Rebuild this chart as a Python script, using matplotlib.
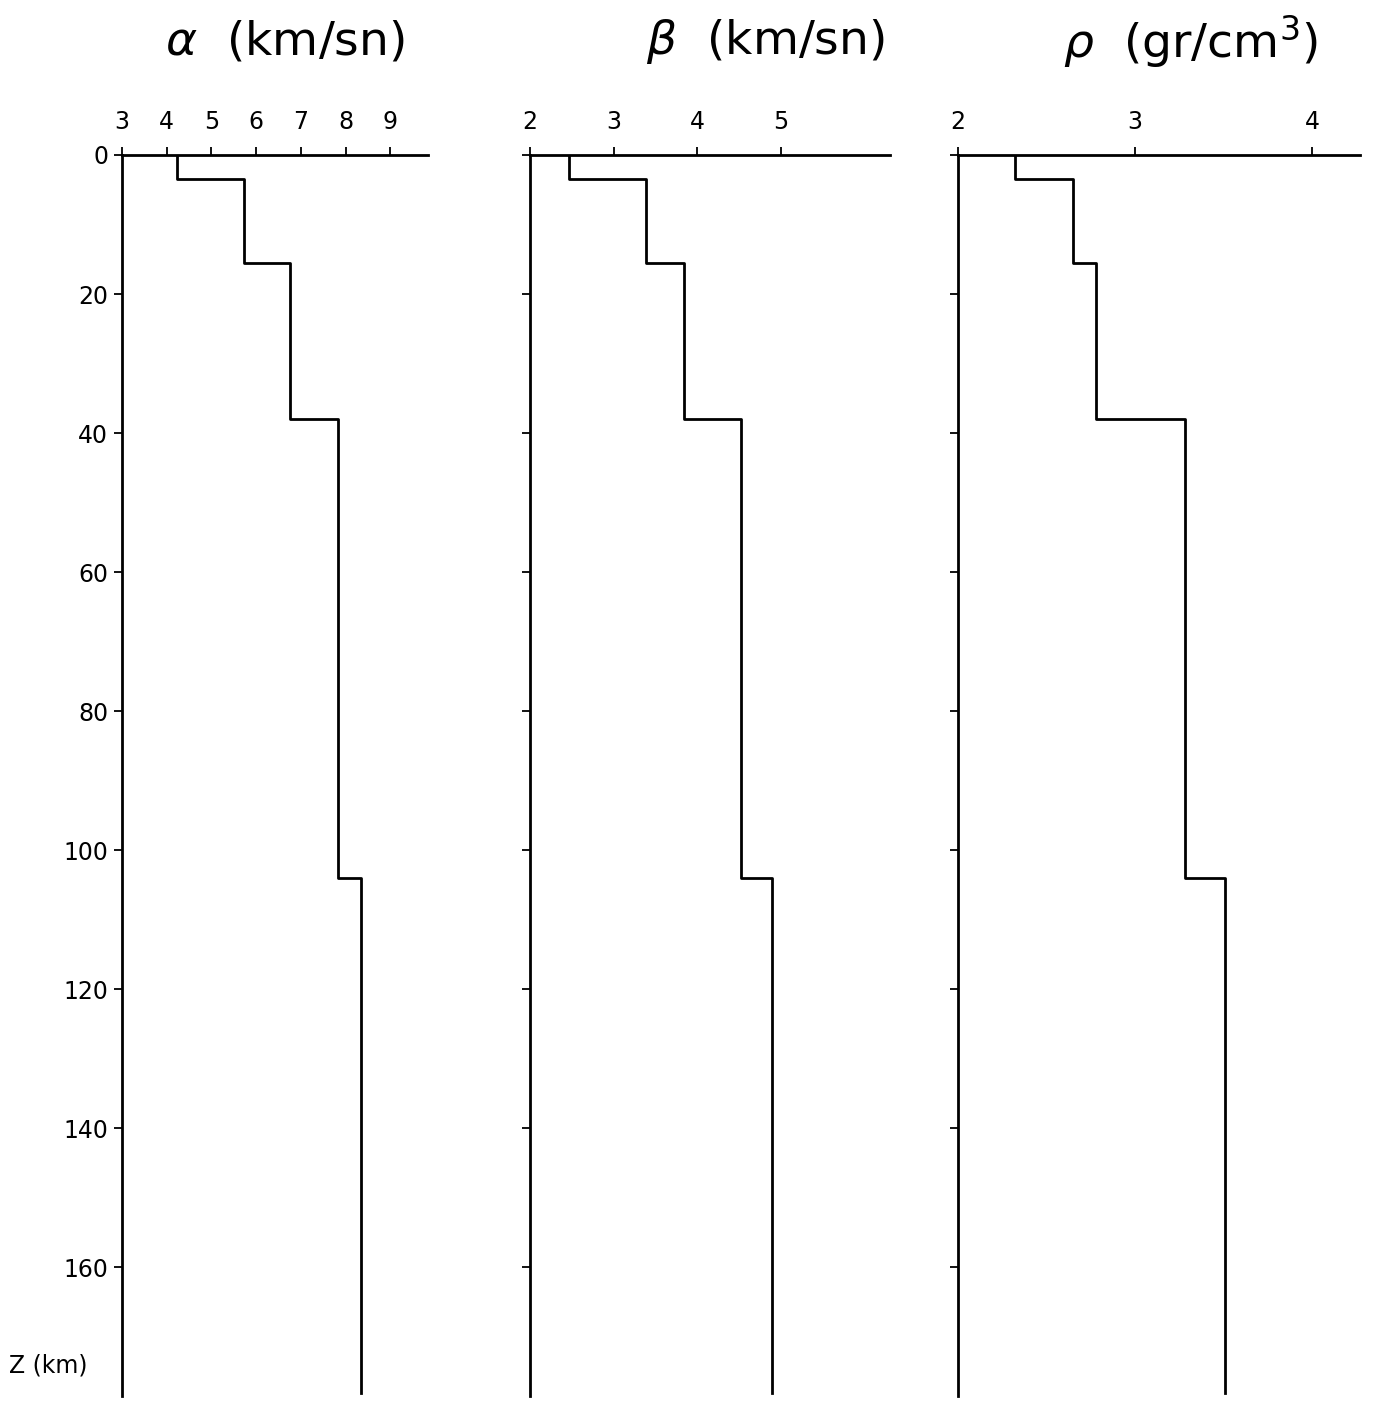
import numpy as np
import matplotlib.pyplot as plt

# layer boundaries (km) shared by all three profiles
depths = [0, 3.5, 15.5, 38, 104, 178]

alpha = [4.24, 5.72, 6.75, 7.82, 8.35]   # P velocity, km/sn
beta = [2.46, 3.38, 3.84, 4.52, 4.89]    # S velocity, km/sn
rho = [2.32, 2.65, 2.78, 3.28, 3.51]     # density, gr/cm3

alpha_ticks = [3, 4, 5, 6, 7, 8, 9]
beta_ticks = [2, 3, 4, 5]
rho_ticks = [2, 3, 4]
z_ticks = [0, 20, 40, 60, 80, 100, 120, 140, 160]

titles = [r'$\alpha$  (km/sn)', r'$\beta$  (km/sn)', r'$\rho$  (gr/cm$^3$)']
title_x = [285, 765, 1190]


def staircase(vals, bounds):
    """Turn layer values into a stepped profile."""
    x = np.repeat(vals, 2)
    y = np.repeat(bounds, 2)[1:-1]
    return x, y


W, H = 1377, 1402
fig = plt.figure(figsize=(W / 100, H / 100), dpi=100)

# left / right pixel edges of each panel
panels = [
    (alpha, alpha_ticks, (3, 9.84), 122, 428),
    (beta, beta_ticks, (2, 6.3), 530, 890),
    (rho, rho_ticks, (2, 4.27), 958, 1360),
]
top, bottom = 155, 1396

for i, (vals, ticks, xlim, x0, x1) in enumerate(panels):
    ax = fig.add_axes([x0 / W, 1 - bottom / H, (x1 - x0) / W, (bottom - top) / H])
    x, y = staircase(vals, depths)
    ax.plot(x, y, color='black', lw=2)
    ax.set_xlim(*xlim)
    ax.set_ylim(178.5, 0)
    ax.xaxis.tick_top()
    ax.set_xticks(ticks)
    ax.set_xticklabels([str(t) for t in ticks], fontsize=17)
    ax.set_yticks(z_ticks)
    if i == 0:
        ax.set_yticklabels([str(t) for t in z_ticks], fontsize=17)
    else:
        ax.set_yticklabels([])
    ax.tick_params(axis='x', direction='out', length=6, width=1.3, pad=9)
    ax.tick_params(axis='y', direction='out', length=6, width=1.3, pad=4)
    for s in ['right', 'bottom']:
        ax.spines[s].set_visible(False)
    for s in ['left', 'top']:
        ax.spines[s].set_linewidth(2)
    fig.text(title_x[i] / W, 1 - 42 / H, titles[i], fontsize=34,
             ha='center', va='center')

fig.text(48 / W, 1 - 1365 / H, 'Z (km)', fontsize=17, ha='center', va='center')

fig.savefig('out.png', dpi=100)
